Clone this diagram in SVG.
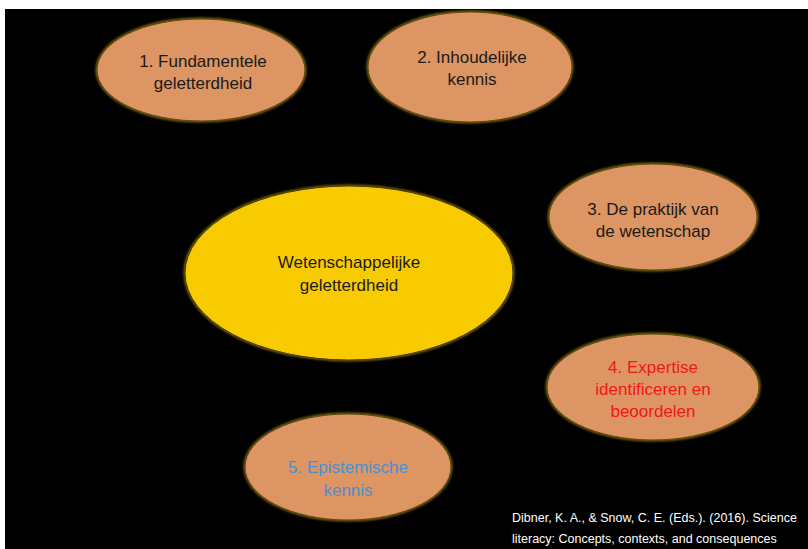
<svg xmlns="http://www.w3.org/2000/svg" width="808" height="549" viewBox="0 0 808 549">
  <defs>
    <filter id="glow" x="-10%" y="-10%" width="120%" height="120%">
      <feGaussianBlur stdDeviation="1.2"/>
    </filter>
  </defs>
  <style>
    .edge { fill: none; stroke: #7a6410; stroke-width: 3; filter: url(#glow); }
    .facet { fill: #dd9563; stroke: #5c4a0c; stroke-width: 1; }
    .core { fill: #f8cb00; stroke: #4a3c08; stroke-width: 1; }
    .lbl { font-family: "Liberation Sans", Arial, sans-serif; font-size: 17px; text-anchor: middle; fill: #1a1a1a; }
    .red { fill: #f01818; }
    .blue { fill: #4a8fd6; }
    .cite { font-family: "Liberation Sans", Arial, sans-serif; font-size: 12.5px; fill: #ffffff; }
  </style>

  <!-- page background -->
  <rect x="0" y="0" width="808" height="549" fill="#ffffff"/>
  <rect x="5" y="9" width="803" height="540" fill="#000000"/>

  <g id="connectors"></g>

  <g id="node-center">
    <ellipse class="edge" cx="349" cy="273" rx="164" ry="87"/>
    <ellipse class="core" cx="349" cy="273" rx="164" ry="87"/>
    <text class="lbl" x="349" y="268">Wetenschappelijke</text>
    <text class="lbl" x="349" y="291">geletterdheid</text>
  </g>

  <g id="node-1">
    <ellipse class="edge" cx="201" cy="70" rx="104" ry="51"/>
    <ellipse class="facet" cx="201" cy="70" rx="104" ry="51"/>
    <text class="lbl" x="203" y="67">1. Fundamentele</text>
    <text class="lbl" x="203" y="89">geletterdheid</text>
  </g>

  <g id="node-2">
    <ellipse class="edge" cx="470" cy="67" rx="102" ry="55"/>
    <ellipse class="facet" cx="470" cy="67" rx="102" ry="55"/>
    <text class="lbl" x="472" y="63">2. Inhoudelijke</text>
    <text class="lbl" x="472" y="85">kennis</text>
  </g>

  <g id="node-3">
    <ellipse class="edge" cx="653" cy="217" rx="104" ry="53"/>
    <ellipse class="facet" cx="653" cy="217" rx="104" ry="53"/>
    <text class="lbl" x="653" y="215">3. De praktijk van</text>
    <text class="lbl" x="653" y="237">de wetenschap</text>
  </g>

  <g id="node-4">
    <ellipse class="edge" cx="653" cy="387" rx="106" ry="53"/>
    <ellipse class="facet" cx="653" cy="387" rx="106" ry="53"/>
    <text class="lbl red" x="653" y="373">4. Expertise</text>
    <text class="lbl red" x="653" y="395">identificeren en</text>
    <text class="lbl red" x="653" y="417">beoordelen</text>
  </g>

  <g id="node-5">
    <ellipse class="edge" cx="348" cy="467" rx="103" ry="53"/>
    <ellipse class="facet" cx="348" cy="467" rx="103" ry="53"/>
    <text class="lbl blue" x="348" y="473">5. Epistemische</text>
    <text class="lbl blue" x="348" y="496">kennis</text>
  </g>

  <g id="citation">
    <text class="cite" x="512" y="522">Dibner, K. A., &amp; Snow, C. E. (Eds.). (2016). Science</text>
    <text class="cite" x="512" y="543">literacy: Concepts, contexts, and consequences</text>
  </g>
</svg>
